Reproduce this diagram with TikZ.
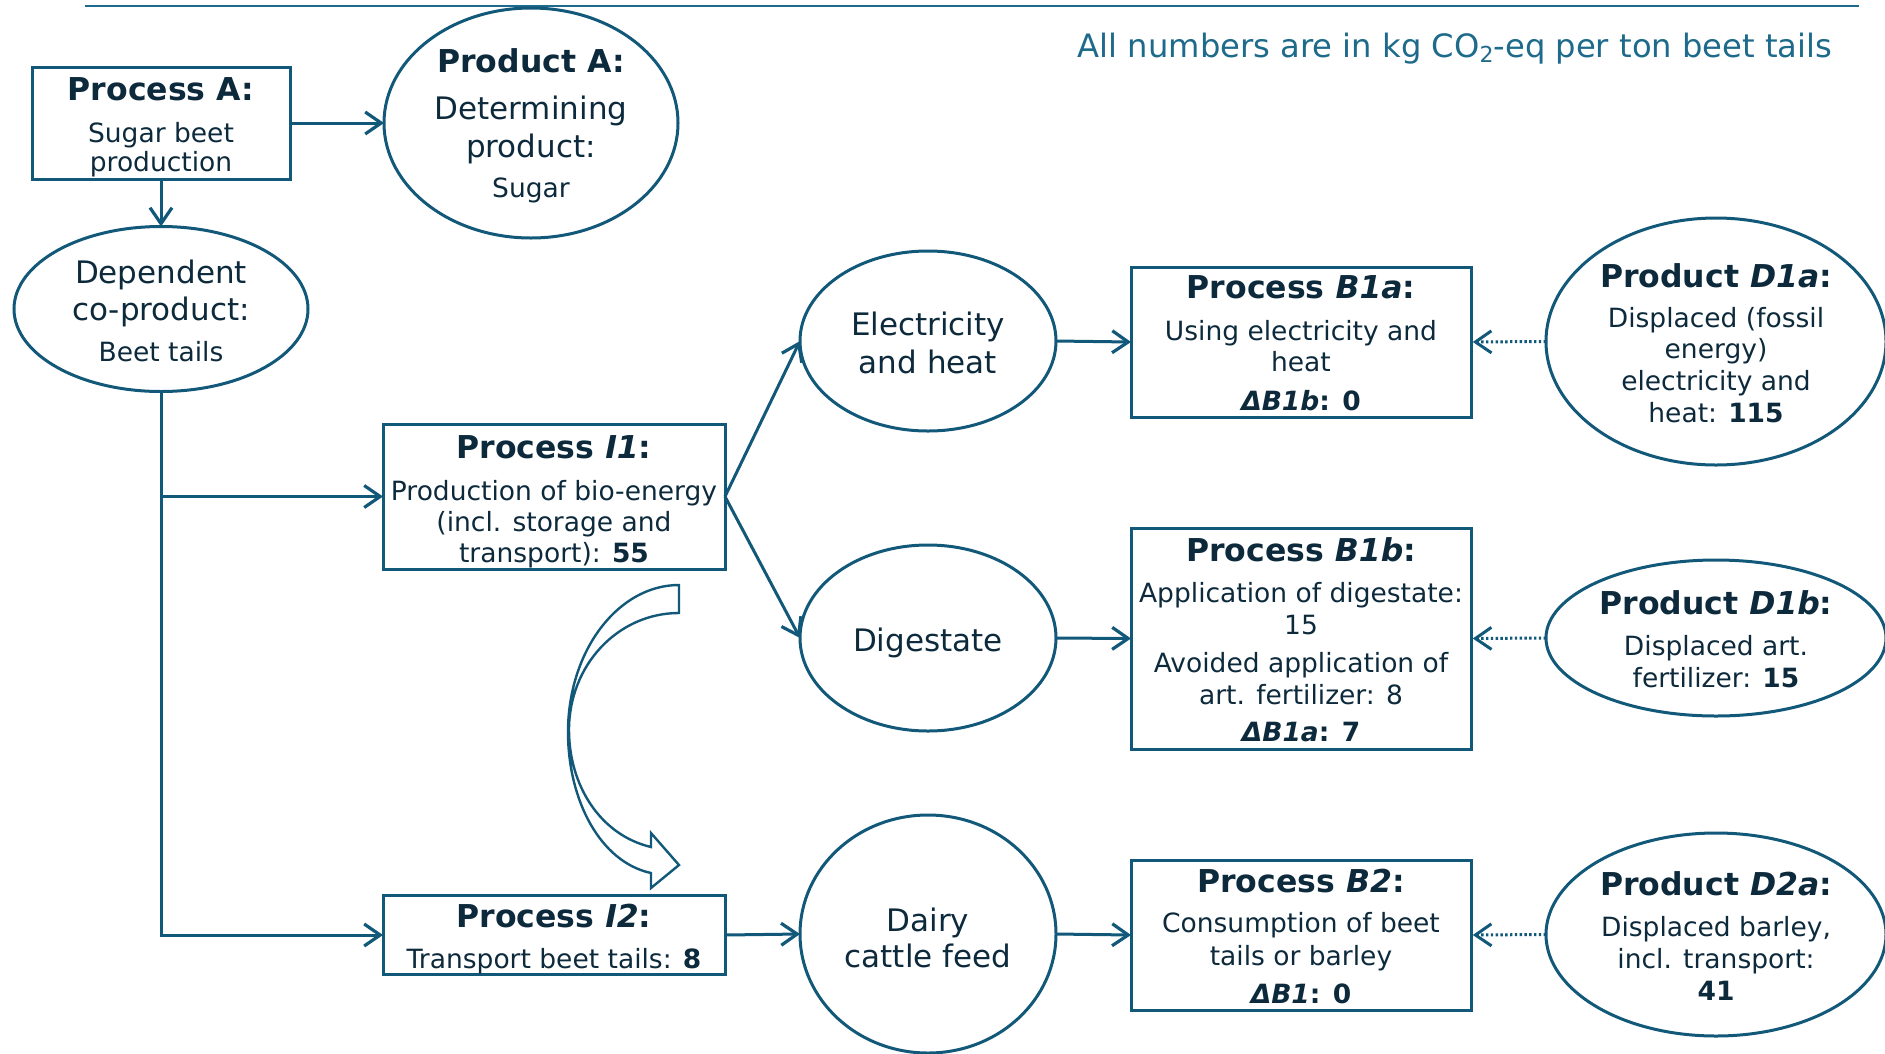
\documentclass[tikz,border=0pt]{standalone}
\usepackage{fontspec}
\setmainfont{DejaVu Sans}
\usetikzlibrary{arrows.meta,shapes.geometric}
\definecolor{linec}{HTML}{125879}
\definecolor{textc}{HTML}{0D2A3C}
\definecolor{headc}{HTML}{1D6A8A}
\newcommand\fbig{\fontsize{31}{38}\selectfont}
\newcommand\fbody{\fontsize{26.5}{31.5}\selectfont}
\newcommand\fttl{\fontsize{31.5}{38}\selectfont\bfseries}
\begin{document}
\begin{tikzpicture}[x=1pt,y=-1pt,
  boxs/.style={draw=linec,line width=3pt,inner sep=0pt,outer sep=0pt,rectangle},
  ells/.style={draw=linec,line width=3pt,inner sep=0pt,outer sep=0pt,ellipse},
  tx/.style={text=textc,inner sep=0pt,anchor=base},
  arr/.style={draw=linec,line width=3pt,-{Straight Barb[length=16pt,width=22pt,line width=3.2pt]}},
  darr/.style={draw=linec,line width=3pt,dash pattern=on 2.4pt off 2.4pt,-{Straight Barb[length=16pt,width=22pt,line width=3pt,sep]}}]
\useasboundingbox (0,0) rectangle (1885,1053);

% top rule and header
\draw[headc,line width=1.5pt] (85,6) -- (1859,6);
\node[text=headc,inner sep=0pt,anchor=base] (hdr) at (1455,57)
  {\fontsize{32.2}{38}\selectfont All numbers are in kg CO\raisebox{-0.3ex}{\fontsize{22}{26}\selectfont 2}-eq per ton beet tails};

% shapes
\node[boxs,minimum width=258pt,minimum height=112pt] (pA) at (161,123) {};
\node[ells,minimum width=294pt,minimum height=230pt] (prodA) at (531,123) {};
\node[ells,minimum width=294pt,minimum height=165pt] (dep) at (161,309) {};
\node[boxs,minimum width=342pt,minimum height=145pt] (I1) at (554,496.5) {};
\node[boxs,minimum width=342pt,minimum height=79pt] (I2) at (554,935) {};
\node[ells,minimum width=256pt,minimum height=180pt] (elec) at (928,341) {};
\node[ells,minimum width=256pt,minimum height=186pt] (dig) at (928,638) {};
\node[ells,minimum width=256pt,minimum height=238pt] (dairy) at (928,934) {};
\node[boxs,minimum width=340pt,minimum height=150pt] (B1a) at (1301,342) {};
\node[boxs,minimum width=340pt,minimum height=221pt] (B1b) at (1301,638.5) {};
\node[boxs,minimum width=340pt,minimum height=150pt] (B2) at (1301,935) {};
\node[ells,minimum width=340pt,minimum height=247pt] (D1a) at (1716,341.5) {};
\node[ells,minimum width=340pt,minimum height=156pt] (D1b) at (1716,638) {};
\node[ells,minimum width=340pt,minimum height=203pt] (D2a) at (1716,934.5) {};

% texts
\node[tx] (pA1) at (161,100) {\fttl Process A:};
\node[tx] (pA2) at (161,142) {\fbody Sugar beet};
\node[tx] (pA3) at (161,171) {\fbody production};

\node[tx] (prA1) at (531,72) {\fttl Product A:};
\node[tx] (prA2) at (531,119) {\fbig Determining};
\node[tx] (prA3) at (531,157) {\fbig product:};
\node[tx] (prA4) at (531,197) {\fbody Sugar};

\node[tx] (dp1) at (161,283) {\fbig Dependent};
\node[tx] (dp2) at (161,320) {\fbig co-product:};
\node[tx] (dp3) at (161,361) {\fbody Beet tails};

\node[tx] (i11) at (554,458) {\fttl Process \textit{I1}:};
\node[tx] (i12) at (554,500) {\fbody Production of bio-energy};
\node[tx] (i13) at (554,531) {\fbody (incl. storage and};
\node[tx] (i14) at (554,562) {\fbody transport): \textbf{55}};

\node[tx] (i21) at (554,927) {\fttl Process \textit{I2}:};
\node[tx] (i22) at (554,968) {\fbody Transport beet tails: \textbf{8}};

\node[tx] (el1) at (928,335) {\fbig Electricity};
\node[tx] (el2) at (928,373) {\fbig and heat};
\node[tx] (dg1) at (928,651) {\fbig Digestate};
\node[tx] (dy1) at (928,931) {\fbig Dairy};
\node[tx] (dy2) at (928,967) {\fbig cattle feed};

\node[tx] (ba1) at (1301,298) {\fttl Process \textit{B1a}:};
\node[tx] (ba2) at (1301,340) {\fbody Using electricity and};
\node[tx] (ba3) at (1301,371) {\fbody heat};
\node[tx] (ba4) at (1301,410) {\fbody\bfseries \textit{ΔB1b}: 0};

\node[tx] (bb1) at (1301,561) {\fttl Process \textit{B1b}:};
\node[tx] (bb2) at (1301,602) {\fbody Application of digestate:};
\node[tx] (bb3) at (1301,634) {\fbody 15};
\node[tx] (bb4) at (1301,672) {\fbody Avoided application of};
\node[tx] (bb5) at (1301,704) {\fbody art. fertilizer: 8};
\node[tx] (bb6) at (1301,741) {\fbody\bfseries \textit{ΔB1a}: 7};

\node[tx] (b21) at (1301,892) {\fttl Process \textit{B2}:};
\node[tx] (b22) at (1301,932) {\fbody Consumption of beet};
\node[tx] (b23) at (1301,965) {\fbody tails or barley};
\node[tx] (b24) at (1301,1003) {\fbody\bfseries \textit{ΔB1}: 0};

\node[tx] (da1) at (1716,287) {\fttl Product \textit{D1a}:};
\node[tx] (da2) at (1716,327) {\fbody Displaced (fossil};
\node[tx] (da3) at (1716,358) {\fbody energy)};
\node[tx] (da4) at (1716,390) {\fbody electricity and};
\node[tx] (da5) at (1716,422) {\fbody heat: \textbf{115}};

\node[tx] (db1) at (1716,614) {\fttl Product \textit{D1b}:};
\node[tx] (db2) at (1716,655) {\fbody Displaced art.};
\node[tx] (db3) at (1716,687) {\fbody fertilizer: \textbf{15}};

\node[tx] (dc1) at (1716,895) {\fttl Product \textit{D2a}:};
\node[tx] (dc2) at (1716,936) {\fbody Displaced barley,};
\node[tx] (dc3) at (1716,968) {\fbody incl. transport:};
\node[tx] (dc4) at (1716,1000) {\fbody\bfseries 41};

% connectors
\draw[arr] (pA.east) -- (prodA.west);
\draw[arr] (pA.south) -- (dep.north);
\draw[arr] (dep.south) |- (I1.west);
\draw[arr] (dep.south) |- (I2.west);
\draw[arr] (I1.east) -- (elec.west);
\draw[arr] (I1.east) -- (dig.west);
\draw[arr] (I2.east) -- (dairy.west);
\draw[arr] (elec.east) -- (B1a.west);
\draw[arr] (dig.east) -- (B1b.west);
\draw[arr] (dairy.east) -- (B2.west);
\draw[darr] (D1a.west) -- (B1a.east);
\draw[darr] (D1b.west) -- (B1b.east);
\draw[darr] (D2a.west) -- (B2.east);

% curved hollow arrow
\draw[linec,line width=2.4pt,line join=miter]
  (679,585) .. controls (618,585) and (568,651) .. (568,732)
  .. controls (568,800) and (600,862) .. (651,873)
  -- (651,888) -- (679,865) -- (651,833) -- (651,847)
  .. controls (600,835) and (569,785) .. (569,730)
  .. controls (569,665) and (618,613) .. (679,613) -- cycle;
\end{tikzpicture}
\end{document}
